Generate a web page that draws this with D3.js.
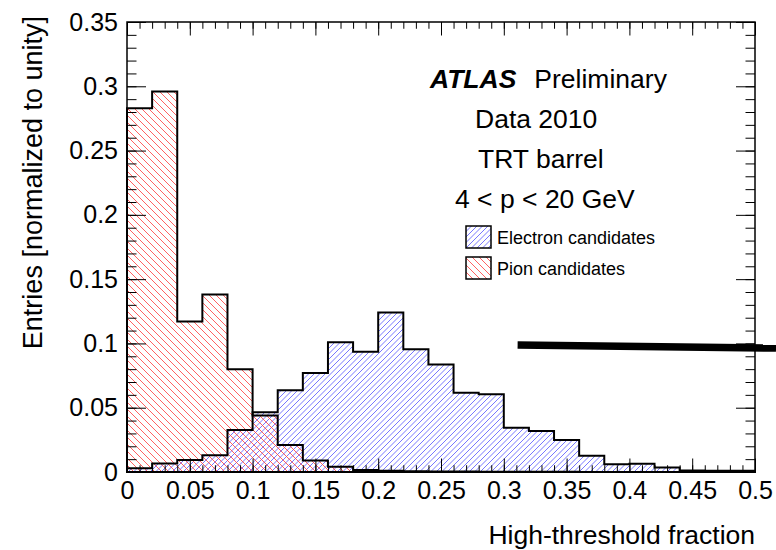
<!DOCTYPE html>
<html>
<head>
<meta charset="utf-8">
<script src="https://cdn.jsdelivr.net/npm/d3@7"></script>
<style>
  body { margin: 0; background: #fff; }
  text { font-family: "Liberation Sans", Arial, Helvetica, sans-serif; fill: #000; }
</style>
</head>
<body>
<div id="chart"></div>
<script>
// bin edges of the high-threshold fraction histogram
const binEdges = [0, 0.02, 0.04, 0.06, 0.08, 0.1, 0.12, 0.14, 0.16, 0.18, 0.2, 0.22, 0.24,
  0.26, 0.28, 0.3, 0.32, 0.34, 0.36, 0.38, 0.4, 0.42, 0.44, 0.46, 0.48, 0.5];

const electron = [0.003, 0.0067, 0.0093, 0.013, 0.0327, 0.0465, 0.0635, 0.077, 0.101, 0.0936,
  0.124, 0.0954, 0.0837, 0.0617, 0.0604, 0.0345, 0.0319, 0.0249, 0.0127, 0.006, 0.0065,
  0.0035, 0.0012, 0.001, 0.001];

const pion = [0.283, 0.296, 0.117, 0.138, 0.08, 0.044, 0.021, 0.009, 0.004, 0.0015, 0.001,
  0.0006, 0.0004, 0.0003, 0.0002, 0.0002, 0.0001, 0.0001, 0, 0, 0, 0, 0, 0, 0];

const xTicks = [0, 0.05, 0.1, 0.15, 0.2, 0.25, 0.3, 0.35, 0.4, 0.45, 0.5];
const xTickLabels = ["0", "0.05", "0.1", "0.15", "0.2", "0.25", "0.3", "0.35", "0.4", "0.45", "0.5"];
const yTicks = [0, 0.05, 0.1, 0.15, 0.2, 0.25, 0.3, 0.35];
const yTickLabels = ["0", "0.05", "0.1", "0.15", "0.2", "0.25", "0.3", "0.35"];

const infoLines = ["Data 2010", "TRT barrel", "4 < p < 20 GeV"];
const legendNames = ["Electron candidates", "Pion candidates"];

// thick black stroke pasted over the picture (start x, y at start, y at end)
const overline = [0.311, 0.0988, 0.0964];

const width = 776;
const height = 550;
const margin = { top: 22, left: 127, bottom: 78, right: 21 };
const iwidth = width - margin.left - margin.right;
const iheight = height - margin.top - margin.bottom;

const hatch = {
  blue: { color: "rgb(95,95,255)", dir: 1, gap: 5.5 },
  red: { color: "rgb(255,70,70)", dir: -1, gap: 7 },
};

const svg = d3.select("#chart").append("svg")
  .attr("width", width)
  .attr("height", height);
const defs = svg.append("defs");

// draws diagonal hatch lines inside a clip region
let clipCount = 0;
function hatchFill(parent, clipShape, box, style) {
  const id = "clip" + clipCount++;
  clipShape(defs.append("clipPath").attr("id", id));
  const h = box.y1 - box.y0;
  const offsets = d3.range(box.x0 - h - style.gap, box.x1 + style.gap, style.gap);
  const segs = offsets.map((o) => style.dir > 0
    ? `M${o},${box.y1}L${o + h},${box.y0}`
    : `M${o},${box.y0}L${o + h},${box.y1}`);
  parent.append("g")
    .attr("clip-path", `url(#${id})`)
    .append("path")
    .attr("d", segs.join(""))
    .style("fill", "none")
    .style("stroke", style.color)
    .style("stroke-width", "0.85px");
}

const g = svg.append("g")
  .attr("transform", `translate(${margin.left},${margin.top})`);

const x = d3.scaleLinear().domain([0, 0.5]).range([0, iwidth]);
const y = d3.scaleLinear().domain([0, 0.35]).range([iheight, 0]);

const area = d3.area()
  .curve(d3.curveStepAfter)
  .x((d) => x(d.x))
  .y0(y(0))
  .y1((d) => y(d.v));

function histData(values) {
  const pts = values.map((v, i) => ({ x: binEdges[i], v: v }));
  pts.push({ x: binEdges[binEdges.length - 1], v: values[values.length - 1] });
  return pts;
}

const series = [
  { name: "electron", values: electron, hatch: hatch.blue },
  { name: "pion", values: pion, hatch: hatch.red },
];

const plotBox = { x0: 0, x1: iwidth, y0: 0, y1: iheight };
series.forEach((s) => {
  const d = area(histData(s.values));
  hatchFill(g, (cp) => cp.append("path").attr("d", d), plotBox, s.hatch);
});
series.forEach((s) => {
  g.append("path")
    .datum(histData(s.values))
    .attr("d", area)
    .attr("fill", "none")
    .attr("stroke", "#000")
    .attr("stroke-width", 2);
});

// axes: ticks pointing inwards on all four sides
function styleAxis(sel, fontSize) {
  sel.select(".domain").remove();
  sel.selectAll(".tick line").attr("stroke", "#000").attr("stroke-width", 1);
  sel.attr("font-family", null).attr("font-size", fontSize);
}

g.append("g")
  .attr("transform", `translate(0,${iheight})`)
  .call(d3.axisBottom(x).tickValues(xTicks).tickFormat((d, i) => xTickLabels[i])
    .tickSizeInner(-13.5).tickSizeOuter(0).tickPadding(9))
  .call((s) => styleAxis(s, 25));
g.append("g")
  .attr("transform", `translate(0,${iheight})`)
  .call(d3.axisBottom(x).tickValues(x.ticks(50)).tickFormat("")
    .tickSizeInner(-6.75).tickSizeOuter(0))
  .call((s) => styleAxis(s, 0));
g.append("g")
  .call(d3.axisTop(x).tickValues(xTicks).tickFormat("").tickSizeInner(-13.5).tickSizeOuter(0))
  .call((s) => styleAxis(s, 0));
g.append("g")
  .call(d3.axisTop(x).tickValues(x.ticks(50)).tickFormat("").tickSizeInner(-6.75).tickSizeOuter(0))
  .call((s) => styleAxis(s, 0));

g.append("g")
  .call(d3.axisLeft(y).tickValues(yTicks).tickFormat((d, i) => yTickLabels[i])
    .tickSizeInner(-19).tickSizeOuter(0).tickPadding(9))
  .call((s) => styleAxis(s, 25));
g.append("g")
  .call(d3.axisLeft(y).tickValues(y.ticks(35)).tickFormat("").tickSizeInner(-9.5).tickSizeOuter(0))
  .call((s) => styleAxis(s, 0));
g.append("g")
  .attr("transform", `translate(${iwidth},0)`)
  .call(d3.axisRight(y).tickValues(yTicks).tickFormat("").tickSizeInner(-19).tickSizeOuter(0))
  .call((s) => styleAxis(s, 0));
g.append("g")
  .attr("transform", `translate(${iwidth},0)`)
  .call(d3.axisRight(y).tickValues(y.ticks(35)).tickFormat("").tickSizeInner(-9.5).tickSizeOuter(0))
  .call((s) => styleAxis(s, 0));

// frame
g.append("rect")
  .attr("width", iwidth)
  .attr("height", iheight)
  .attr("fill", "none")
  .attr("stroke", "#000")
  .attr("stroke-width", 1.5);

// axis titles
svg.append("text")
  .attr("x", margin.left + iwidth)
  .attr("y", 544)
  .attr("text-anchor", "end")
  .attr("font-size", 26.5)
  .text("High-threshold fraction");

svg.append("text")
  .attr("transform", `translate(42,${margin.top - 6}) rotate(-90)`)
  .attr("text-anchor", "end")
  .attr("font-size", 27)
  .text("Entries [normalized to unity]");

// ATLAS label
const atlas = svg.append("text")
  .attr("x", 430)
  .attr("y", 88)
  .attr("font-size", 26.5);
atlas.append("tspan").attr("font-weight", "bold").attr("font-style", "italic").text("ATLAS");
atlas.append("tspan").attr("dx", 18).text("Preliminary");

const infoX = [475, 478, 455];
infoLines.forEach((t, i) => {
  svg.append("text")
    .attr("x", infoX[i])
    .attr("y", 128 + i * 40)
    .attr("font-size", 26.5)
    .text(t);
});

// legend
const legendHatch = [hatch.blue, hatch.red];
legendNames.forEach((name, i) => {
  const box = { x0: 466, y0: 226 + i * 31, x1: 491, y1: 248 + i * 31 };
  hatchFill(svg, (cp) => cp.append("rect")
    .attr("x", box.x0).attr("y", box.y0)
    .attr("width", box.x1 - box.x0).attr("height", box.y1 - box.y0), box, legendHatch[i]);
  svg.append("rect")
    .attr("x", box.x0).attr("y", box.y0)
    .attr("width", box.x1 - box.x0).attr("height", box.y1 - box.y0)
    .attr("fill", "none")
    .attr("stroke", "#000").attr("stroke-width", 1.5);
  svg.append("text")
    .attr("x", 497).attr("y", box.y0 + 18)
    .attr("font-size", 18)
    .text(name);
});

// thick black stroke
svg.append("line")
  .attr("x1", margin.left + x(overline[0]))
  .attr("y1", margin.top + y(overline[1]))
  .attr("x2", width)
  .attr("y2", margin.top + y(overline[2]))
  .attr("stroke", "#000")
  .attr("stroke-width", 7.5);
</script>
</body>
</html>
